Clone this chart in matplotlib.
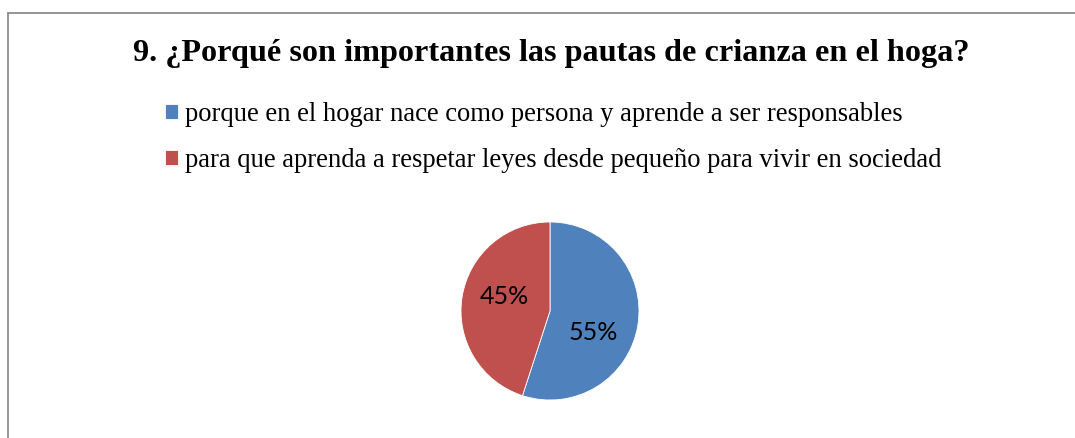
import matplotlib.pyplot as plt
import numpy as np

# data
title = u'9. ¿Porqué son importantes las pautas de crianza en el hoga?'
categories = ['porque en el hogar nace como persona y aprende a ser responsables',
              'para que aprenda a respetar leyes desde pequeño para vivir en sociedad']
values = [55, 45]
colors = ['#4F81BD', '#C0504D']

W, H = 1075, 438
fig = plt.figure(figsize=(W/100., H/100.), dpi=100)

# chart frame (runs past the right/bottom of the picture)
frame = plt.Rectangle((8./W, -0.05), 1.1, 1 - 13./H + 0.05, transform=fig.transFigure,
                      fill=False, edgecolor='#8c8c8c', linewidth=1.3)
fig.patches.append(frame)

fig.text(551./W, 1 - 53./H, title, ha='center', va='center',
         family='Liberation Serif', fontweight='bold', fontsize=23.2)

# pie
cx, cy, r = 550., 311., 89.
ax = fig.add_axes([(cx - r)/W, (H - cy - r)/H, 2*r/W, 2*r/H])
wedges, texts, autotexts = ax.pie(values, colors=colors, startangle=90, counterclock=False,
                                  autopct='%d%%', pctdistance=0.55,
                                  wedgeprops=dict(edgecolor='white', linewidth=0.6),
                                  textprops=dict(family='Lato', fontsize=18, color='black'))
ax.set_xlim(-1, 1)
ax.set_ylim(-1, 1)
ax.set_aspect('auto')

# Excel-like label spots (angle in deg, radius fraction)
label_spots = [(-26, 0.54), (162, 0.54)]
for t, (ang, d) in zip(autotexts, label_spots):
    a = np.radians(ang)
    t.set_position((d*np.cos(a), d*np.sin(a)))

leg = fig.legend(wedges, categories, loc='upper left', bbox_to_anchor=(165./W, 1 - 102./H),
                 frameon=False, prop=dict(family='Liberation Serif', size=19.15),
                 handlelength=0.5, handleheight=0.5, handletextpad=0.25,
                 labelspacing=0.8, borderaxespad=0, borderpad=0)

fig.savefig('out.png', dpi=100)
